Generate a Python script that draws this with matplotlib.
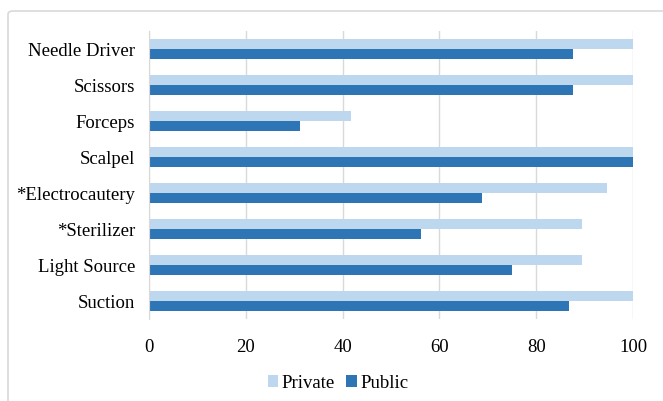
import matplotlib
matplotlib.use("Agg")
import matplotlib.pyplot as plt
from matplotlib.patches import FancyBboxPatch
import numpy as np

categories = ["Needle Driver", "Scissors", "Forceps", "Scalpel", "*Electrocautery",
              "*Sterilizer", "Light Source", "Suction"]
private = [100, 100, 41.8, 100, 94.6, 89.4, 89.4, 100]
public = [87.6, 87.6, 31.2, 100, 68.7, 56.3, 74.9, 86.7]
xticks = [0, 20, 40, 60, 80, 100]

plt.rcParams['font.family'] = ['Liberation Serif', 'DejaVu Serif']

W, H = 663, 402
fig = plt.figure(figsize=(W/100, H/100), dpi=100)
ax = fig.add_axes([149/W, 1-320/H, (633-149)/W, (320-32)/H])

border = FancyBboxPatch((8/W, -0.05), 1.2, 1-12/H+0.05, transform=fig.transFigure,
                        boxstyle="round,pad=0,rounding_size=0.008",
                        facecolor="none", edgecolor="#D9D9D9", linewidth=1.2)
fig.patches.append(border)

n = len(categories)
y = np.arange(n)
h = 0.28
ax.barh(y - h/2, private, height=h, color="#BDD7EE", label="Private", zorder=3)
ax.barh(y + h/2, public, height=h, color="#2E75B6", label="Public", zorder=3)

ax.set_ylim(n - 0.5, -0.5)
ax.set_xlim(0, 100)
ax.set_yticks(y)
ax.set_yticklabels(categories, fontsize=13.5)
ax.set_xticks(xticks)
ax.set_xticklabels([str(t) for t in xticks], fontsize=13.5)
ax.tick_params(axis='x', length=0, pad=14)
ax.tick_params(axis='y', length=0, pad=10)
ax.grid(axis='x', color="#D9D9D9", linewidth=1, zorder=0)
for s in ["top", "right", "bottom"]:
    ax.spines[s].set_visible(False)
ax.spines["left"].set_color("#D9D9D9")
ax.spines["left"].set_zorder(4)

fig.legend(loc="center", bbox_to_anchor=(0.51, 1-384/H), ncol=2, frameon=False,
           fontsize=13.5, handlelength=0.55, handleheight=0.6, handletextpad=0.2,
           columnspacing=0.6)

fig.savefig("out.png", dpi=100)
